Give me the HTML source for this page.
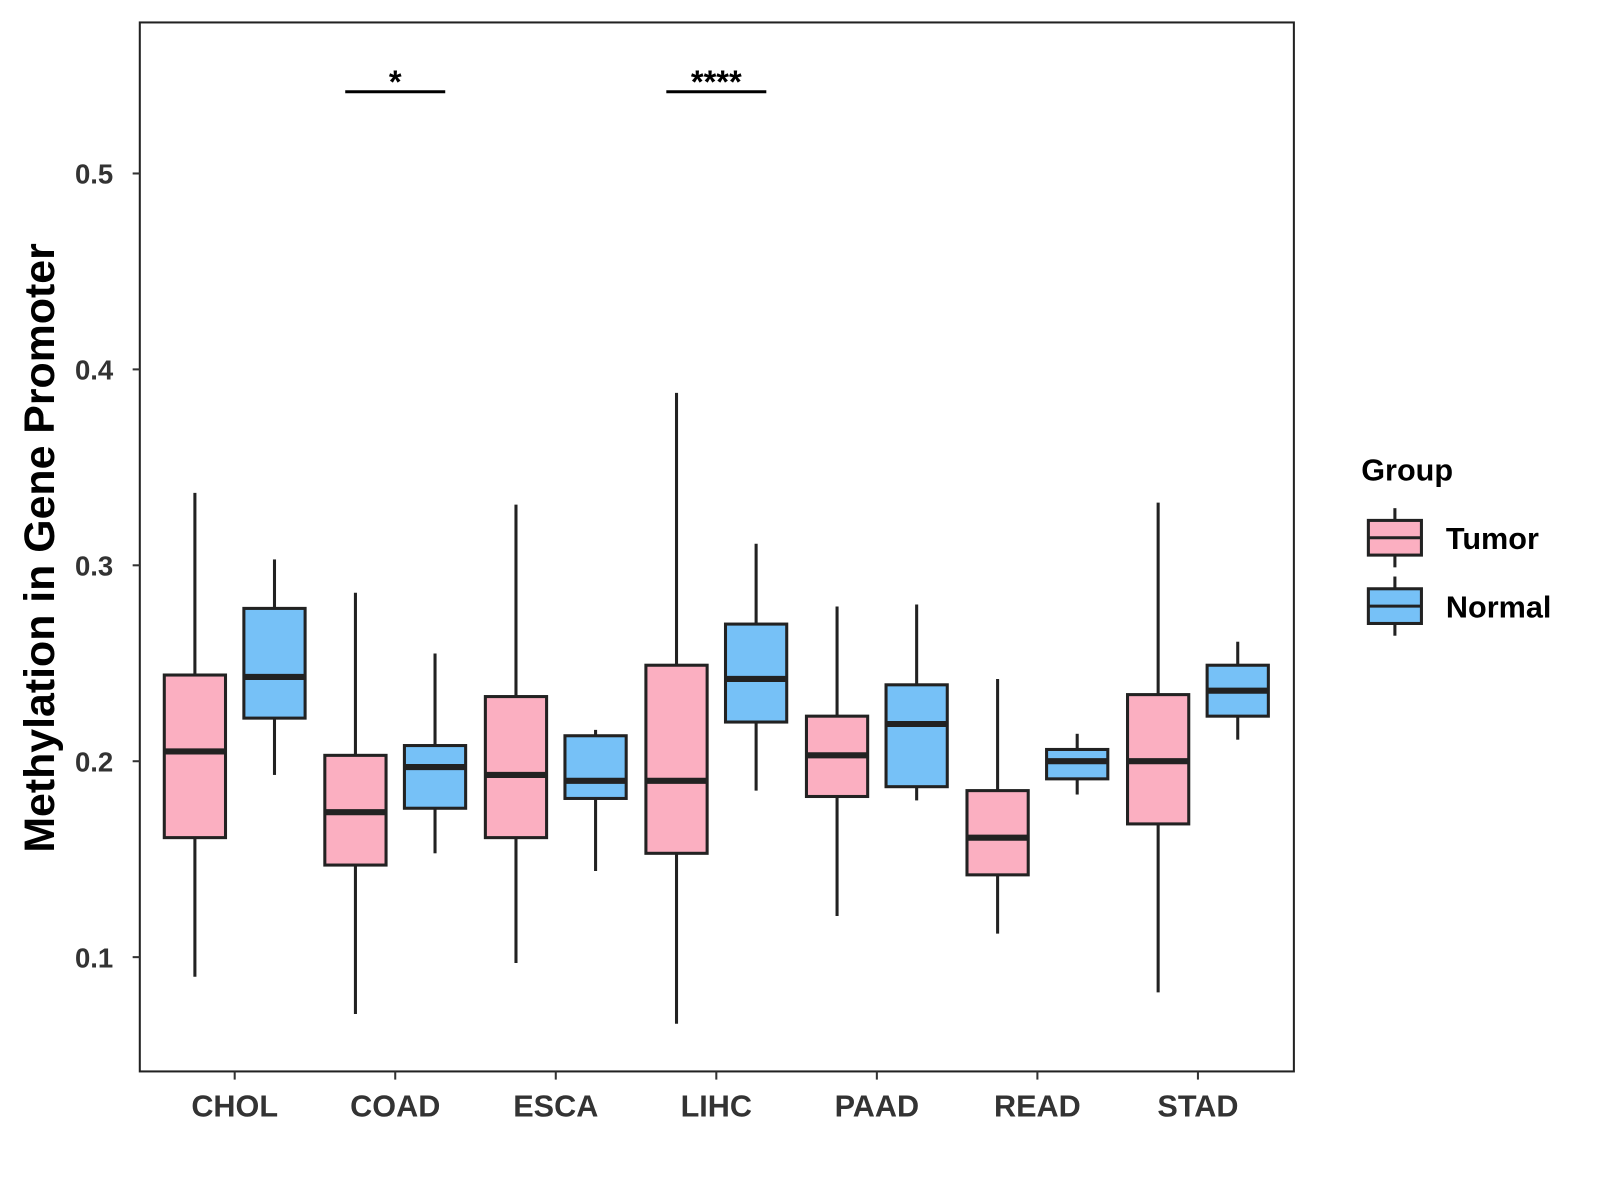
<!DOCTYPE html>
<html><head><meta charset="utf-8"><style>body{margin:0;background:#fff}svg{display:block}text{font-family:"Liberation Sans",Arial,sans-serif;font-weight:bold}</style></head>
<body>
<svg id="chart" width="1600" height="1200" viewBox="0 0 1568 1176" xmlns="http://www.w3.org/2000/svg">
<rect x="137" y="22" width="1131" height="1028" fill="#fff" stroke="#222" stroke-width="2"/>
<g id="marks"></g>
<text transform="translate(53,537) rotate(-90)" text-anchor="middle" font-size="42" fill="#000">Methylation in Gene Promoter</text>
<g>
<text x="1334" y="471" font-size="30" fill="#000">Group</text>
</g>
<script>
const categories=["CHOL","COAD","ESCA","LIHC","PAAD","READ","STAD"];
const tumorMin=[0.090,0.071,0.097,0.066,0.121,0.112,0.082];
const tumorQ1=[0.161,0.147,0.161,0.153,0.182,0.142,0.168];
const tumorMed=[0.205,0.174,0.193,0.190,0.203,0.161,0.200];
const tumorQ3=[0.244,0.203,0.233,0.249,0.223,0.185,0.234];
const tumorMax=[0.337,0.286,0.331,0.388,0.279,0.242,0.332];
const normalMin=[0.193,0.153,0.144,0.185,0.180,0.183,0.211];
const normalQ1=[0.222,0.176,0.181,0.220,0.187,0.191,0.223];
const normalMed=[0.243,0.197,0.190,0.242,0.219,0.200,0.236];
const normalQ3=[0.278,0.208,0.213,0.270,0.239,0.206,0.249];
const normalMax=[0.303,0.255,0.216,0.311,0.280,0.214,0.261];
const yTicks=[0.1,0.2,0.3,0.4,0.5];
const sigCats=["COAD","LIHC"];
const sigLabels=["*","****"];
const sigY=0.5417;

const NS="http://www.w3.org/2000/svg";
const g=document.getElementById('marks');
const svg=document.getElementById('chart');
const y=v=>170+(0.5-v)*1920;
const x=i=>230+i*157.33;
function mk(tag,attrs,parent){const e=document.createElementNS(NS,tag);for(const k in attrs)e.setAttribute(k,attrs[k]);(parent||g).appendChild(e);return e;}
yTicks.forEach(t=>{
  const l=mk('line',{x1:130,x2:137,y1:y(t),y2:y(t),stroke:'#333','stroke-width':2});
  
  
  const tx=mk('text',{x:111,y:y(t)+10,'text-anchor':'end','font-size':27,fill:'#333'});
  tx.textContent=t.toFixed(1);
  
  
});
categories.forEach((c,i)=>{
  const l=mk('line',{x1:x(i),x2:x(i),y1:1050,y2:1058,stroke:'#333','stroke-width':2});
  
  
  const tx=mk('text',{x:x(i),y:1094,'text-anchor':'middle','font-size':30,fill:'#333'});
  tx.textContent=c;
  
  
});
function box(cx,mn,q1,md,q3,mx,fill,name){
  const grp=mk('g',{});
  
  
  mk('line',{x1:cx,x2:cx,y1:y(mx),y2:y(q3),stroke:'#222','stroke-width':3},grp);
  mk('line',{x1:cx,x2:cx,y1:y(q1),y2:y(mn),stroke:'#222','stroke-width':3},grp);
  mk('rect',{x:cx-30,y:y(q3),width:60,height:y(q1)-y(q3),fill:fill,stroke:'#222','stroke-width':3},grp);
  mk('line',{x1:cx-30,x2:cx+30,y1:y(md),y2:y(md),stroke:'#222','stroke-width':6},grp);
}
categories.forEach((c,i)=>{
  box(x(i)-39,tumorMin[i],tumorQ1[i],tumorMed[i],tumorQ3[i],tumorMax[i],'#fbafc1','box-tumor-'+c.toLowerCase());
  box(x(i)+39,normalMin[i],normalQ1[i],normalMed[i],normalQ3[i],normalMax[i],'#76c1f7','box-normal-'+c.toLowerCase());
});
sigCats.forEach((c,k)=>{
  const i=categories.indexOf(c);
  const l=mk('line',{x1:x(i)-49,x2:x(i)+49,y1:y(sigY),y2:y(sigY),stroke:'#000','stroke-width':3});
  
  
  const tx=mk('text',{x:x(i),y:y(sigY)+1,'text-anchor':'middle','font-size':32,fill:'#000'});
  tx.textContent=sigLabels[k];
  
  
});
const legendItems=[["Tumor","#fbafc1",527],["Normal","#76c1f7",594]];
legendItems.forEach(([lab,col,cy])=>{
  const grp=mk('g',{},svg);
  
  
  mk('line',{x1:1367,x2:1367,y1:cy-29,y2:cy+29,stroke:'#222','stroke-width':3},grp);
  mk('rect',{x:1341,y:cy-17,width:52,height:34,fill:col,stroke:'#222','stroke-width':3},grp);
  mk('line',{x1:1341,x2:1393,y1:cy,y2:cy,stroke:'#222','stroke-width':3},grp);
  const t=mk('text',{x:1417,y:cy+11,'font-size':30,fill:'#000'},grp);
  t.textContent=lab;
});
</script>
</svg>
</body></html>
